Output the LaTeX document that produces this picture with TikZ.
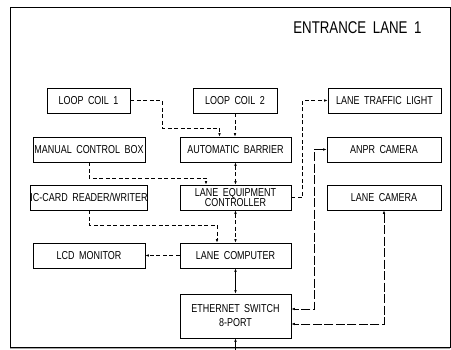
\documentclass[tikz,border=0pt]{standalone}
\usepackage{fontspec}
\setmainfont{Liberation Sans}[FakeStretch=0.78,WordSpace=1.8]
\usetikzlibrary{arrows.meta}

\tikzset{
  unit/.style={draw, line width=0.7pt, inner sep=0pt, align=center,
    minimum width=111pt, minimum height=25pt,
    font=\fontsize{11.5}{13}\selectfont},
  sig/.style={line width=0.6pt, dash pattern=on 4pt off 2.5pt},
  lan/.style={line width=0.6pt, dash pattern=on 9pt off 2.5pt},
  tip/.style={-{Latex[length=3.5pt,width=2.5pt]}},
  tips/.style={{Latex[length=3.5pt,width=2.5pt]}-{Latex[length=3.5pt,width=2.5pt]}}
}

\begin{document}
\begin{tikzpicture}[x=1pt, y=-1pt]
  \useasboundingbox (0,0) rectangle (451,350);
  \draw[line width=0.9pt] (10,7) rectangle (450,347);
  \draw[gray!70, line width=0.8pt] (10,348.3) -- (450,348.3);
  \node[font=\fontsize{17}{19}\selectfont] (title) at (357.5,28) {ENTRANCE LANE 1};

  % left column
  \node[unit, minimum width=83pt] (coil1) at (88.5,100.5) {LOOP COIL 1};
  \node[unit, minimum width=112pt] (manual) at (89,149.5) {MANUAL CONTROL BOX};
  \node[unit, minimum width=112pt] (iccard) at (89,197.5) {IC-CARD READER/WRITER};
  \node[unit, minimum width=112pt] (lcd) at (89,255.5) {LCD MONITOR};

  % middle column
  \node[unit, minimum width=84pt] (coil2) at (235,100.5) {LOOP COIL 2};
  \node[unit] (barrier) at (235.5,149.5) {AUTOMATIC BARRIER};
  \node[unit, font=\fontsize{11.5}{10.5}\selectfont] (ctrl) at (235.5,197.5) {LANE EQUIPMENT\\CONTROLLER};
  \node[unit] (pc) at (235.5,255.5) {LANE COMPUTER};
  \node[unit, minimum height=44pt, font=\fontsize{11.5}{14}\selectfont] (switch) at (235.5,316) {ETHERNET SWITCH\\8-PORT};

  % right column
  \node[unit, minimum width=113pt] (light) at (384.5,100.5) {LANE TRAFFIC LIGHT};
  \node[unit, minimum width=114pt] (anpr) at (384,149.5) {ANPR CAMERA};
  \node[unit, minimum width=114pt] (lanecam) at (384,197.5) {LANE CAMERA};

  \coordinate (uplink) at (235.5,350);

  % signal lines
  \draw[sig, tip] (coil1.east) -| (162,128) -| ([xshift=-16pt]barrier.north);
  \draw[sig, tip] (coil2.south) -- (coil2.south |- barrier.north);
  \draw[sig, tips] (barrier.south) -- (ctrl.north);
  \draw[sig, tip] (ctrl.east) -| ([xshift=-25pt]light.west) -- (light.west);
  \draw[sig, tip] (manual.south) -- (89,178) -| ([xshift=-29.5pt]ctrl.north);
  \draw[sig, tip] (iccard.south) -- (89,225) -| ([xshift=-18.5pt]pc.north);
  \draw[sig, tips] (ctrl.south) -- (pc.north);
  \draw[sig, tip] (pc.west) -- (lcd.east);

  % network lines
  \draw[line width=0.6pt, tips] (pc.south) -- (switch.north);
  \draw[line width=0.6pt, tip] (uplink) -- (switch.south);
  \draw[lan, tips] (anpr.west) -- ++(-12,0) |- ([yshift=7pt]switch.east);
  \draw[lan, tips] (lanecam.south) |- ([yshift=-8pt]switch.east);
\end{tikzpicture}
\end{document}
